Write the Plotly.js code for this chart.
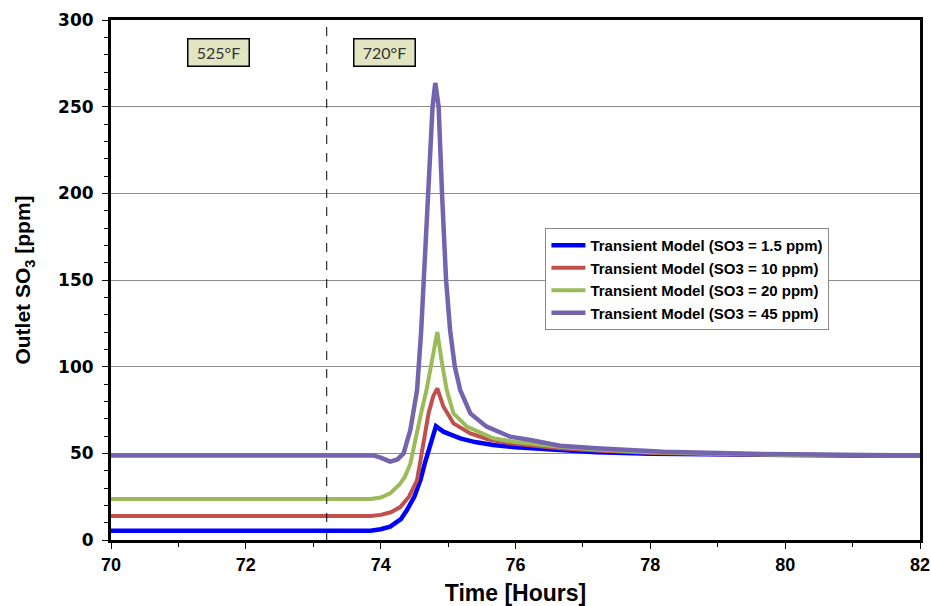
<!DOCTYPE html>
<html>
<head>
<meta charset="utf-8">
<script src="https://cdn.plot.ly/plotly-3.0.1.min.js"></script>
<style>html,body{margin:0;padding:0;background:#fff;}#chart{width:931px;height:606px;}</style>
</head>
<body>
<div id="chart"></div>
<script>
// Series names
const seriesNames = [
  "Transient Model (SO3 = 1.5 ppm)",
  "Transient Model (SO3 = 10 ppm)",
  "Transient Model (SO3 = 20 ppm)",
  "Transient Model (SO3 = 45 ppm)"
];

// SO3 = 1.5 ppm
const xBlue = [70, 73.85, 74.0, 74.14, 74.3, 74.39, 74.5, 74.59, 74.66, 74.74, 74.82, 74.93, 75.05, 75.18, 75.4, 75.67, 76.0, 76.66, 77.2, 78, 79, 80, 81, 82];
const yBlue = [5.4, 5.4, 6.2, 7.7, 12, 17.3, 25, 34.6, 45, 56, 65.7, 62.5, 60.5, 58.6, 56.5, 54.8, 53.5, 51.9, 50.6, 49.8, 49.3, 49.0, 48.8, 48.7];

// SO3 = 10 ppm
const xRed = [70, 73.85, 74.0, 74.15, 74.29, 74.42, 74.54, 74.61, 74.71, 74.78, 74.84, 74.93, 75.08, 75.33, 75.6, 75.92, 76.3, 76.66, 77.2, 78, 79, 80, 81, 82];
const yRed = [13.8, 13.8, 14.5, 16, 19, 25, 34.6, 50, 73, 83, 87.5, 77, 67.3, 61.5, 58, 55.8, 54.2, 52.9, 51.6, 50.3, 49.5, 49.1, 48.9, 48.7];

// SO3 = 20 ppm
const xGreen = [70, 73.85, 74.0, 74.14, 74.28, 74.36, 74.44, 74.54, 74.61, 74.68, 74.76, 74.84, 74.91, 74.98, 75.08, 75.28, 75.67, 76.0, 76.66, 77.2, 78, 79, 80, 81, 82];
const yGreen = [23.6, 23.6, 24.5, 26.9, 32, 36.5, 44, 63.4, 75, 86.5, 102, 120, 102, 86.5, 73, 65.4, 58.7, 56.5, 53.8, 52.2, 50.6, 49.6, 49.1, 48.9, 48.7];

// SO3 = 45 ppm
const xPurple = [70, 73.89, 74.0, 74.14, 74.25, 74.34, 74.44, 74.54, 74.6, 74.64, 74.72, 74.77, 74.81, 74.86, 74.91, 74.97, 75.03, 75.10, 75.18, 75.33, 75.57, 75.92, 76.22, 76.66, 77.2, 78.19, 79.68, 81, 82];
const yPurple = [48.8, 48.8, 47.5, 45.2, 46.5, 50, 63.4, 86.5, 120, 150, 200, 250, 263.7, 250, 200, 150, 121, 100, 86.5, 73, 65.4, 59.6, 57.7, 54.4, 52.9, 50.9, 49.6, 49.0, 48.8];

// Annotations / markers
const dividerX = 73.2;
const zoneLabels = ["525°F", "720°F"];
const zoneX = [71.6, 74.05];
const zoneY = [281.5, 281.5];

const colors = ["#0000ff", "#c0504d", "#9bbb59", "#7464ae"];
const widths = [4.5, 4, 4, 4.5];
const xs = [xBlue, xRed, xGreen, xPurple];
const ys = [yBlue, yRed, yGreen, yPurple];

const traces = xs.map((x, i) => ({
  type: "scatter", mode: "lines", x: x, y: ys[i], name: seriesNames[i],
  line: {color: colors[i], width: widths[i]}
}));

const tickFontX = {family: "Liberation Sans Narrow, Arial Narrow, Liberation Sans, Arial", size: 18, color: "#000", weight: "bold"};
const tickFontY = {family: "DejaVu Sans, Liberation Sans, Arial", size: 17, color: "#000", weight: "bold"};

const layout = {
  width: 931, height: 606,
  margin: {l: 111, r: 11, t: 20, b: 66},
  paper_bgcolor: "#fff", plot_bgcolor: "#fff",
  showlegend: true,
  legend: {
    x: 0.537, y: 0.6, xanchor: "left", yanchor: "top",
    bgcolor: "#fff", bordercolor: "#888", borderwidth: 1,
    font: {family: "Liberation Sans, Arial", size: 15, color: "#000", weight: "bold"},
    itemwidth: 34, tracegroupgap: 0
  },
  xaxis: {
    range: [70, 82], dtick: 2, tick0: 70,
    showgrid: false, zeroline: false,
    showline: true, linecolor: "#000", linewidth: 3, mirror: true,
    ticks: "outside", ticklen: 6, tickcolor: "#000", tickwidth: 1,
    minor: {dtick: 1, ticks: "outside", ticklen: 4, tickcolor: "#000", showgrid: false},
    tickfont: tickFontX,
    title: {text: "Time [Hours]", font: {family: "Liberation Sans Narrow, Arial Narrow, Liberation Sans, Arial", size: 23, color: "#000", weight: "bold"}, standoff: 12}
  },
  yaxis: {
    range: [0, 300], dtick: 50,
    showgrid: true, gridcolor: "#8c8c8c", gridwidth: 1, zeroline: false,
    showline: true, linecolor: "#000", linewidth: 3, mirror: true,
    ticks: "outside", ticklen: 6, tickcolor: "#000", tickwidth: 1,
    ticklabelstandoff: 5,
    minor: {dtick: 10, ticks: "outside", ticklen: 4, tickcolor: "#000", showgrid: false},
    tickfont: tickFontY,
    title: {text: "Outlet SO<sub>3</sub> [ppm]", font: {family: "Liberation Sans, Arial", size: 21, color: "#000", weight: "bold"}, standoff: 22}
  },
  shapes: [{
    type: "line", xref: "x", yref: "paper", x0: dividerX, x1: dividerX, y0: 0, y1: 1,
    line: {color: "#000", width: 1, dash: "dash"}
  }],
  annotations: zoneLabels.map((t, i) => ({
    x: zoneX[i], y: zoneY[i], xref: "x", yref: "y", text: t, showarrow: false,
    font: {family: "Lato, Open Sans, Liberation Sans", size: 16, color: "#333"},
    width: 56, height: 22, align: "center", valign: "middle",
    bgcolor: "#e2e5c2", bordercolor: "#000", borderwidth: 1.5, borderpad: 2
  }))
};

Plotly.newPlot("chart", traces, layout, {displayModeBar: false, staticPlot: true});
</script>
</body>
</html>
